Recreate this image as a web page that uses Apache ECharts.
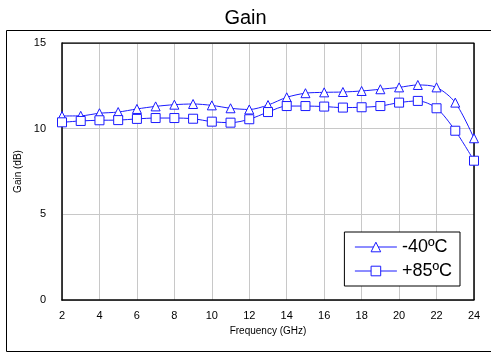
<!DOCTYPE html>
<html>
<head>
<meta charset="utf-8">
<script src="https://cdn.jsdelivr.net/npm/echarts@6/dist/echarts.min.js"></script>
<style>
  html, body { margin: 0; padding: 0; background: #fff; }
  #container { width: 491px; height: 356px; }
</style>
</head>
<body>
<div id="container"></div>
<script>
// data
var freq = [2, 3, 4, 5, 6, 7, 8, 9, 10, 11, 12, 13, 14, 15, 16, 17, 18, 19, 20, 21, 22, 23, 24];
var gainM40 = [10.74, 10.75, 10.9, 10.97, 11.15, 11.3, 11.4, 11.44, 11.36, 11.19, 11.12, 11.38, 11.83, 12.07, 12.12, 12.14, 12.2, 12.3, 12.41, 12.55, 12.41, 11.52, 9.44];
var gainP85 = [10.37, 10.45, 10.49, 10.5, 10.57, 10.62, 10.62, 10.58, 10.41, 10.35, 10.55, 10.97, 11.32, 11.32, 11.29, 11.23, 11.25, 11.32, 11.52, 11.62, 11.19, 9.88, 8.13];

var dom = document.getElementById('container');
var myChart = echarts.init(dom, null, { renderer: 'canvas' });

function pairs(ys) {
   return freq.map(function (f, i) { return [f, ys[i]]; });
}

var blue = '#1a1aff';
var font = 'Liberation Sans, Arial, sans-serif';

var option = {
   animation: false,
   title: {
      text: 'Gain',
      left: 'center',
      top: 3,
      textStyle: { fontFamily: font, fontSize: 20, fontWeight: 'normal', color: '#000' }
   },
   graphic: [{
      type: 'rect',
      shape: { x: 6.5, y: 30.5, width: 490, height: 321 },
      style: { fill: 'none', stroke: '#000', lineWidth: 1 },
      z: -1
   }],
   legend: {
      right: 31,
      top: 232,
      orient: 'vertical',
      backgroundColor: '#fff',
      borderColor: '#000',
      borderWidth: 1,
      borderRadius: 0,
      padding: [6, 8, 6, 10],
      itemGap: 6,
      itemWidth: 42,
      itemHeight: 12,
      itemStyle: { color: '#fff', borderColor: blue, borderWidth: 1 },
      lineStyle: { color: blue, width: 1 },
      textStyle: { fontFamily: font, fontSize: 18, color: '#000' },
      data: ['-40ºC', '+85ºC']
   },
   grid: { left: 62, right: 17, top: 43, bottom: 56 },
   xAxis: {
      type: 'value',
      min: 2,
      max: 24,
      interval: 2,
      name: 'Frequency (GHz)',
      nameLocation: 'middle',
      nameGap: 23,
      nameTextStyle: { fontFamily: font, fontSize: 10, color: '#000' },
      axisLine: { show: true, lineStyle: { color: '#000', width: 1.5 } },
      axisTick: { show: false },
      axisLabel: { fontFamily: font, fontSize: 11, color: '#000', margin: 10 },
      splitLine: { show: true, lineStyle: { color: '#c8c8c8' } }
   },
   yAxis: {
      type: 'value',
      min: 0,
      max: 15,
      interval: 5,
      name: 'Gain (dB)',
      nameLocation: 'middle',
      nameGap: 30,
      nameTextStyle: { fontFamily: font, fontSize: 10, color: '#000' },
      axisLine: { show: true, lineStyle: { color: '#000', width: 1.5 } },
      axisTick: { show: false },
      axisLabel: { fontFamily: font, fontSize: 11, color: '#000', margin: 16 },
      splitLine: { show: true, lineStyle: { color: '#c8c8c8' } }
   },
   series: [
      {
         name: '-40ºC',
         type: 'line',
         smooth: 0.3,
         symbol: 'triangle',
         symbolSize: 9,
         itemStyle: { color: '#fff', borderColor: blue, borderWidth: 1 },
         lineStyle: { color: blue, width: 1 },
         data: pairs(gainM40)
      },
      {
         name: '+85ºC',
         type: 'line',
         smooth: 0.3,
         symbol: 'rect',
         symbolSize: 9,
         itemStyle: { color: '#fff', borderColor: blue, borderWidth: 1 },
         lineStyle: { color: blue, width: 1 },
         data: pairs(gainP85)
      },
      {
         // box frame on top and right of plot
         type: 'line',
         silent: true,
         symbol: 'none',
         lineStyle: { color: '#000', width: 1.5 },
         data: [[2, 15], [24, 15], [24, 0]],
         z: 1
      }
   ]
};

myChart.setOption(option);
window.addEventListener('resize', myChart.resize);
</script>
</body>
</html>
